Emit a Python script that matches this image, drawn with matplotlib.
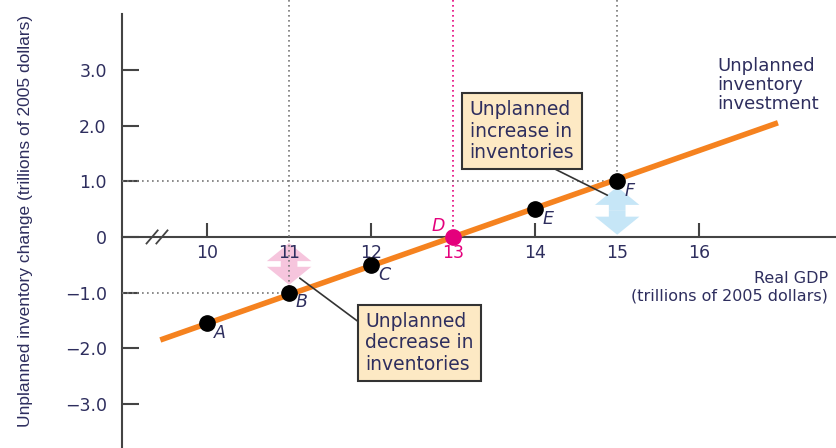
import matplotlib
matplotlib.use("Agg")
import matplotlib.pyplot as plt
from matplotlib.patches import FancyArrowPatch

# data
gdp = [10, 11, 12, 13, 14, 15]
inv_change = [-1.55, -1.0, -0.5, 0.0, 0.5, 1.0]
point_labels = ["A", "B", "C", "D", "E", "F"]
line_gdp = [9.43, 16.96]
line_inv = [-1.85, 2.05]
xticks_major = [10, 12, 14, 16]
xticks_minor = [11, 13, 15]
yticks = [-3, -2, -1, 0, 1, 2, 3]
ytick_labels = ["\u22123.0", "\u22122.0", "\u22121.0", "0", "1.0", "2.0", "3.0"]

ORANGE = "#f5821f"
PINK = "#e4007c"
NAVY = "#2e2e5e"
DOT = "#777777"
BOX = "#fde9c4"

plt.rcParams["font.family"] = "DejaVu Sans"

fig = plt.figure(figsize=(8.37, 4.48), dpi=100)
ax = fig.add_axes([122 / 837, 0, 1 - 122 / 837, 1])
ax.set_xlim(8.963, 17.68)
ax.set_ylim(-3.79, 4.255)
ymax = ax.get_ylim()[1]
x0 = ax.get_xlim()[0]

for s in ("top", "right"):
    ax.spines[s].set_visible(False)
ax.spines["left"].set_bounds(-3.79, 4.0)
ax.spines["bottom"].set_position(("data", 0))
for s in ("left", "bottom"):
    ax.spines[s].set_color("#444444")
    ax.spines[s].set_linewidth(1.5)

ax.set_yticks(yticks, labels=ytick_labels)
ax.tick_params(axis="y", direction="in", length=12, width=1.5, color="#444444",
               pad=11, labelsize=12.5, labelcolor=NAVY)
ax.set_xticks(xticks_major, labels=[str(v) for v in xticks_major])
ax.set_xticks(xticks_minor, labels=[str(v) for v in xticks_minor], minor=True)
ax.tick_params(axis="x", which="major", direction="in", length=10, width=1.5,
               color="#444444", pad=5, labelsize=12.5, labelcolor=NAVY)
ax.tick_params(axis="x", which="minor", length=0, pad=5, labelsize=12.5, labelcolor=NAVY)
for lab in ax.get_xticklabels(minor=True):
    if lab.get_text() == "13":
        lab.set_color(PINK)

# axis break
for bx in (9.33, 9.45):
    ax.plot([bx - 0.075, bx + 0.075], [-0.13, 0.13], color="#444444", lw=1.3,
            solid_capstyle="butt", zorder=4)

# dotted guides
dots = (0, (1, 2))
ax.plot([gdp[1], gdp[1]], [ymax, inv_change[1]], color=DOT, ls=dots, lw=1.2, zorder=3)
ax.plot([gdp[5], gdp[5]], [ymax, inv_change[5]], color=DOT, ls=dots, lw=1.2, zorder=3)
ax.plot([gdp[3], gdp[3]], [ymax, inv_change[3]], color=PINK, ls=dots, lw=1.2, zorder=3)
ax.plot([x0, gdp[1]], [inv_change[1]] * 2, color=DOT, ls=dots, lw=1.2, zorder=3)
ax.plot([x0, gdp[5]], [inv_change[5]] * 2, color=DOT, ls=dots, lw=1.2, zorder=3)


def double_arrow(x, top, bottom, color):
    mid = (top + bottom) / 2
    style = "simple,head_length=13,head_width=32,tail_width=12"
    for end in (top, bottom):
        ax.add_patch(FancyArrowPatch((x, mid), (x, end), arrowstyle=style,
                                     mutation_scale=1, color=color, lw=0,
                                     shrinkA=0, shrinkB=0, zorder=0.5))


double_arrow(11, -0.11, -0.86, "#f6c5dd")
double_arrow(15, 0.9, 0.04, "#c6e6f7")

# unplanned inventory investment line
ax.plot(line_gdp, line_inv, color=ORANGE, lw=4, solid_capstyle="butt", zorder=4)

for x, y, lab in zip(gdp, inv_change, point_labels):
    if lab == "D":
        ax.plot(x, y, "o", color=PINK, ms=11, zorder=5)
        ax.annotate(lab, (x, y), xytext=(-11, 8), textcoords="offset points",
                    ha="center", va="center", fontsize=12.5, style="italic", color=PINK)
    else:
        ax.plot(x, y, "o", color="black", ms=11, zorder=5)
        ax.annotate(lab, (x, y), xytext=(5, -7), textcoords="offset points",
                    ha="left", va="center", fontsize=12.5, style="italic", color=NAVY)

box = dict(boxstyle="square,pad=0.4", fc=BOX, ec="#333333", lw=1.5)
ax.annotate("", xy=(14.88, 0.75), xytext=(14.24, 1.22),
            arrowprops=dict(arrowstyle="-", color="#333333", lw=1.2,
                            shrinkA=0, shrinkB=0), zorder=6)
ax.text(13.2, 1.9, "Unplanned\nincrease in\ninventories", ha="left", va="center",
        fontsize=13.5, color=NAVY, linespacing=1.15, bbox=box, zorder=7)
ax.annotate("", xy=(11.13, -0.74), xytext=(11.87, -1.55),
            arrowprops=dict(arrowstyle="-", color="#333333", lw=1.2,
                            shrinkA=0, shrinkB=0), zorder=6)
ax.text(11.93, -1.9, "Unplanned\ndecrease in\ninventories", ha="left", va="center",
        fontsize=13.5, color=NAVY, linespacing=1.15, bbox=box, zorder=7)

ax.text(16.22, 2.73, "Unplanned\ninventory\ninvestment", ha="left", va="center",
        fontsize=13, color=NAVY, linespacing=1.1)
ax.text(17.57, -0.9, "Real GDP\n(trillions of 2005 dollars)", ha="right", va="center",
        multialignment="right", fontsize=11.5, color=NAVY, linespacing=1.25)

fig.text(26 / 837, 1 - 221 / 448, "Unplanned inventory change (trillions of 2005 dollars)",
         rotation=90, ha="center", va="center", fontsize=12.5, color=NAVY,
         family="Liberation Sans")

fig.savefig("out.png", dpi=100)
